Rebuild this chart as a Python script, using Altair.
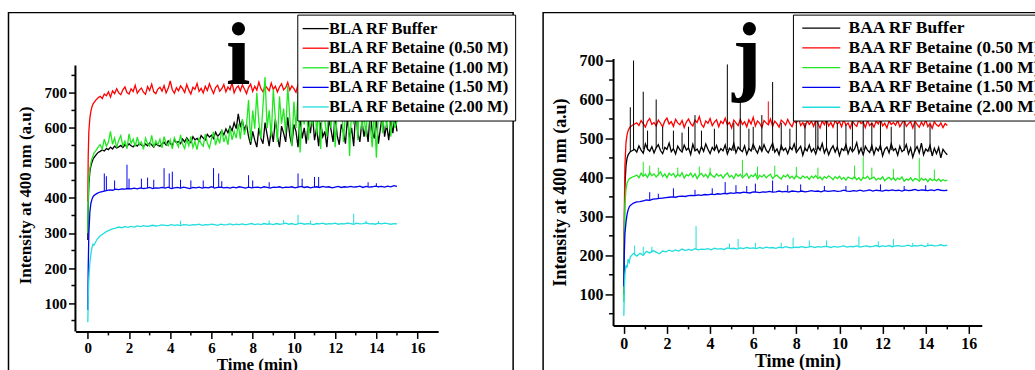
import altair as alt
import pandas as pd

FONT = "Liberation Serif"
COLORS = ["#000000", "#ff0000", "#22e622", "#0000ee", "#22dddd"]

# coarse time grid (smooth traces)
TIME = [0, 0.02, 0.05, 0.1, 0.15, 0.2, 0.25, 0.3, 0.45, 0.6,
        0.75, 0.9, 1.05, 1.2, 1.35, 1.5, 1.65, 1.8, 1.95, 2.1,
        2.25, 2.4, 2.55, 2.7, 2.85, 3.0, 3.15, 3.3, 3.45, 3.6,
        3.75, 3.9, 4.05, 4.2, 4.35, 4.5, 4.65, 4.8, 4.95, 5.1,
        5.25, 5.4, 5.55, 5.7, 5.85, 6.0, 6.15, 6.3, 6.45, 6.6,
        6.75, 6.9, 7.05, 7.2, 7.35, 7.5, 7.65, 7.8, 7.95, 8.1,
        8.25, 8.4, 8.55, 8.7, 8.85, 9.0, 9.15, 9.3, 9.45, 9.6,
        9.75, 9.9, 10.05, 10.2, 10.35, 10.5, 10.65, 10.8, 10.95, 11.1,
        11.25, 11.4, 11.55, 11.7, 11.85, 12.0, 12.15, 12.3, 12.45, 12.6,
        12.75, 12.9, 13.05, 13.2, 13.35, 13.5, 13.65, 13.8, 13.95, 14.1,
        14.25, 14.4, 14.55, 14.7, 14.85, 15.0]

# fine time grid (noisy traces)
TIME_FINE = [0, 0.02, 0.05, 0.1, 0.15, 0.2, 0.25, 0.3, 0.4, 0.5,
             0.6, 0.7, 0.8, 0.9, 1.0, 1.1, 1.2, 1.3, 1.4, 1.5,
             1.6, 1.7, 1.8, 1.9, 2.0, 2.1, 2.2, 2.3, 2.4, 2.5,
             2.6, 2.7, 2.8, 2.9, 3.0, 3.1, 3.2, 3.3, 3.4, 3.5,
             3.6, 3.7, 3.8, 3.9, 4.0, 4.1, 4.2, 4.3, 4.4, 4.5,
             4.6, 4.7, 4.8, 4.9, 5.0, 5.1, 5.2, 5.3, 5.4, 5.5,
             5.6, 5.7, 5.8, 5.9, 6.0, 6.1, 6.2, 6.3, 6.4, 6.5,
             6.6, 6.7, 6.8, 6.9, 7.0, 7.1, 7.2, 7.3, 7.4, 7.5,
             7.6, 7.7, 7.8, 7.9, 8.0, 8.1, 8.2, 8.3, 8.4, 8.5,
             8.6, 8.7, 8.8, 8.9, 9.0, 9.1, 9.2, 9.3, 9.4, 9.5,
             9.6, 9.7, 9.8, 9.9, 10.0, 10.1, 10.2, 10.3, 10.4, 10.5,
             10.6, 10.7, 10.8, 10.9, 11.0, 11.1, 11.2, 11.3, 11.4, 11.5,
             11.6, 11.7, 11.8, 11.9, 12.0, 12.1, 12.2, 12.3, 12.4, 12.5,
             12.6, 12.7, 12.8, 12.9, 13.0, 13.1, 13.2, 13.3, 13.4, 13.5,
             13.6, 13.7, 13.8, 13.9, 14.0, 14.1, 14.2, 14.3, 14.4, 14.5,
             14.6, 14.7, 14.8, 14.9, 15.0]

BLA_NAMES = ["BLA RF Buffer", "BLA RF Betaine (0.50 M)", "BLA RF Betaine (1.00 M)",
             "BLA RF Betaine (1.50 M)", "BLA RF Betaine (2.00 M)"]
BAA_NAMES = ["BAA RF Buffer", "BAA RF Betaine (0.50 M)", "BAA RF Betaine (1.00 M)",
             "BAA RF Betaine (1.50 M)", "BAA RF Betaine (2.00 M)"]

# ---------------- panel i (BLA) ----------------
bla_buffer = [280, 380, 440, 475, 492, 502, 510, 515, 523, 530,
              533, 537, 534, 541, 538, 545, 540, 548, 543, 546,
              550, 544, 552, 547, 555, 549, 546, 553, 548, 556,
              551, 547, 554, 549, 557, 552, 545, 555, 550, 548,
              554, 559, 551, 563, 556, 549, 566, 558, 561, 555,
              568, 560, 572, 563, 558, 575, 566, 570, 562, 578,
              571, 566, 582, 574, 579, 570, 588, 576, 583, 592,
              580, 597, 586, 604, 592, 615, 598, 640, 605, 620,
              595, 610, 575, 552, 590, 565, 545, 600, 570, 555,
              615, 580, 548, 595, 560, 625, 575, 545, 605, 585,
              560, 630, 578, 550, 610, 590, 545, 635, 570, 600,
              555, 620, 585, 640, 565, 600, 548, 615, 575, 590,
              545, 625, 595, 560, 640, 578, 552, 610, 588, 555,
              630, 570, 600, 548, 650, 585, 560, 620, 575, 605,
              560, 645, 590, 570, 625, 555, 600, 640, 575, 610,
              565, 620, 585, 635, 590]
bla_050 = [390, 520, 590, 628, 648, 660, 668, 672, 680, 686,
           690, 684, 697, 692, 703, 688, 706, 698, 712, 700,
           695, 709, 717, 701, 697, 712, 704, 722, 699, 708,
           714, 702, 696, 718, 707, 725, 703, 698, 711, 716,
           705, 721, 700, 713, 734, 709, 699, 715, 706, 720,
           712, 701, 724, 708, 697, 716, 710, 727, 704, 713,
           700, 719, 707, 726, 711, 698, 715, 722, 705, 712,
           724, 703, 717, 709, 729, 700, 714, 720, 706, 723,
           711, 698, 716, 725, 704, 719, 708, 731, 712, 703,
           721, 714, 706, 728, 710, 719, 703, 717, 726, 709,
           715, 730, 708, 720, 712, 702, 724, 716, 710, 727,
           713, 722, 706, 729, 717, 711, 725, 708, 720, 714,
           728, 710, 719, 724, 707, 721, 732, 713, 718, 709,
           723, 716, 711, 727, 720, 714, 729, 709, 722, 717,
           712, 726, 719, 731, 714, 721, 710, 725, 718, 728,
           713, 722, 716, 727, 719]
bla_100 = [300, 400, 455, 485, 500, 512, 520, 528, 536, 545,
           552, 540, 568, 548, 560, 590, 553, 571, 544, 565,
           578, 549, 562, 541, 583, 556, 568, 547, 574, 552,
           560, 539, 571, 555, 548, 579, 545, 563, 552, 568,
           543, 575, 556, 549, 566, 540, 572, 558, 546, 580,
           553, 541, 567, 549, 576, 544, 561, 538, 570, 555,
           548, 582, 557, 543, 568, 589, 551, 573, 556, 596,
           560, 578, 552, 601, 566, 590, 571, 612, 568, 625,
           580, 608, 680, 560, 650, 598, 700, 615, 570, 665,
           745, 600, 650, 575, 710, 625, 560, 690, 612, 655,
           585, 720, 630, 548, 675, 600, 700, 530, 645, 610,
           690, 565, 640, 605, 720, 580, 655, 540, 700, 620,
           575, 660, 600, 710, 545, 650, 625, 690, 560, 640,
           700, 520, 655, 610, 680, 565, 720, 595, 640, 575,
           690, 610, 545, 665, 515, 640, 700, 585, 655, 600,
           670, 575, 640, 600, 620]
bla_150 = [80, 200, 300, 360, 385, 396, 403, 407, 413, 417,
           419, 421, 423, 422, 425, 424, 426, 425, 427, 426,
           428, 426, 429, 427, 428, 430, 427, 429, 428, 430,
           428, 431, 427, 429, 430, 428, 431, 429, 427, 430,
           429, 431, 428, 430, 429, 432, 428, 430, 431, 429,
           430, 428, 431, 429, 432, 430, 428, 431, 429, 430,
           431, 429, 432, 430, 428, 431, 430, 432, 429, 431,
           430, 432, 429, 431, 433, 430, 432, 429, 431, 432,
           430, 433, 431, 432, 429, 431, 433, 430, 432, 431,
           433, 431, 432, 434, 430, 433, 431, 432, 434, 432,
           433, 431, 434, 432, 435, 433]
bla_200 = [45, 110, 170, 215, 240, 258, 268, 265, 282, 292,
           298, 304, 308, 312, 314, 317, 315, 318, 316, 319,
           317, 320, 318, 321, 319, 320, 322, 320, 321, 323,
           322, 321, 324, 322, 323, 321, 324, 323, 322, 324,
           323, 325, 322, 324, 323, 325, 324, 322, 325, 323,
           324, 326, 323, 325, 324, 326, 323, 325, 327, 324,
           326, 324, 327, 325, 326, 324, 327, 325, 326, 328,
           325, 327, 324, 326, 328, 325, 327, 326, 324, 327,
           326, 328, 325, 327, 326, 328, 325, 327, 326, 328,
           327, 325, 328, 326, 327, 329, 326, 327, 325, 328,
           326, 328, 327, 325, 327, 326]

# spikes: (time, low, high)
bla_150_spikes = [(0.8, 420, 470), (0.9, 421, 462), (1.3, 423, 450), (1.9, 426, 495),
                  (2.0, 426, 455), (2.6, 428, 455), (2.9, 428, 458), (3.2, 428, 452),
                  (3.7, 429, 485), (3.95, 430, 470), (4.1, 428, 475), (4.5, 428, 452),
                  (5.0, 429, 450), (5.6, 429, 450), (6.1, 431, 485), (6.35, 430, 470),
                  (6.5, 430, 448), (7.8, 430, 465), (8.0, 430, 450), (8.8, 430, 445),
                  (10.2, 431, 470), (10.4, 431, 455), (11.0, 431, 460), (11.2, 431, 460),
                  (13.6, 432, 445), (14.0, 432, 442)]
bla_200_spikes = [(4.5, 323, 335), (8.8, 325, 336), (9.5, 325, 337), (10.2, 326, 352),
                  (10.8, 326, 335), (12.9, 327, 355), (13.5, 327, 335), (14.1, 327, 334)]

# ---------------- panel j (BAA) ----------------
baa_buffer = [100, 250, 380, 430, 450, 458, 462, 466, 469, 472,
              465, 481, 470, 462, 486, 473, 467, 479, 463, 476,
              484, 469, 461, 477, 472, 488, 466, 474, 460, 480,
              471, 465, 483, 470, 476, 459, 485, 468, 473, 462,
              479, 467, 486, 472, 461, 477, 469, 482, 464, 474,
              468, 483, 460, 475, 470, 487, 463, 478, 471, 466,
              481, 459, 474, 468, 485, 472, 462, 479, 467, 484,
              470, 463, 476, 488, 465, 473, 458, 482, 469, 475,
              461, 478, 471, 486, 464, 472, 480, 457, 475, 468,
              483, 466, 474, 460, 479, 470, 487, 463, 476, 458,
              472, 481, 465, 478, 456, 474, 469, 484, 461, 477,
              466, 473, 489, 462, 475, 458, 480, 470, 464, 482,
              459, 476, 468, 483, 455, 472, 478, 463, 486, 469,
              474, 457, 480, 466, 471, 484, 460, 476, 452, 470,
              479, 463, 488, 458, 473, 467, 482, 455, 475, 461,
              477, 450, 472, 464, 458]
baa_050 = [100, 300, 430, 490, 510, 520, 526, 530, 534, 537,
           540, 533, 546, 538, 529, 544, 551, 536, 541, 532,
           547, 539, 530, 545, 552, 537, 543, 531, 549, 540,
           535, 546, 528, 542, 550, 538, 532, 547, 541, 556,
           536, 529, 545, 539, 551, 533, 542, 548, 530, 544,
           538, 552, 535, 541, 527, 547, 540, 533, 549, 536,
           543, 530, 548, 537, 554, 532, 545, 539, 528, 546,
           540, 535, 550, 531, 544, 538, 529, 547, 542, 534,
           549, 537, 530, 545, 540, 552, 533, 541, 528, 546,
           536, 544, 531, 548, 539, 527, 545, 535, 550, 532,
           541, 529, 546, 537, 543, 530, 549, 534, 540, 526,
           545, 536, 531, 548, 538, 542, 528, 546, 533, 540,
           529, 544, 537, 551, 532, 539, 527, 545, 536, 541,
           534, 546, 530, 540, 548, 531, 538, 543, 527, 544,
           536, 529, 542, 533, 547, 530, 539, 526, 543, 535,
           531, 540, 528, 538, 533]
baa_100 = [80, 250, 330, 370, 385, 392, 396, 398, 401, 403,
           406, 399, 411, 403, 408, 400, 413, 404, 409, 401,
           407, 414, 402, 409, 399, 411, 405, 410, 400, 408,
           403, 412, 398, 407, 404, 411, 401, 409, 397, 406,
           410, 402, 408, 399, 412, 404, 400, 409, 403, 407,
           398, 406, 411, 401, 405, 397, 409, 403, 408, 399,
           404, 410, 398, 406, 402, 409, 396, 405, 401, 407,
           399, 404, 408, 397, 403, 406, 400, 396, 405, 401,
           407, 398, 403, 396, 405, 400, 397, 404, 399, 402,
           395, 403, 399, 405, 397, 401, 394, 402, 398, 404,
           400, 394, 402, 397, 403, 395, 400, 393, 401, 398,
           396, 402, 394, 399, 392, 400, 397, 403, 395, 398,
           401, 393, 398, 395, 402, 391, 397, 400, 394, 399,
           392, 398, 395, 401, 390, 396, 393, 399, 391, 397,
           395, 390, 398, 393, 396, 389, 397, 392, 395, 391,
           396, 390, 394, 391, 393]
baa_150 = [120, 200, 255, 285, 305, 317, 324, 328, 334, 337,
           338, 340, 342, 341, 344, 345, 346, 347, 348, 349,
           350, 349, 351, 352, 351, 353, 354, 353, 355, 354,
           356, 355, 357, 356, 358, 357, 359, 358, 360, 359,
           361, 360, 362, 361, 360, 363, 362, 361, 363, 362,
           364, 362, 363, 365, 363, 364, 362, 365, 364, 363,
           365, 363, 364, 366, 364, 365, 363, 366, 364, 365,
           366, 364, 365, 367, 365, 364, 366, 365, 367, 365,
           366, 368, 365, 367, 366, 365, 367, 366, 368, 366,
           367, 365, 368, 366, 367, 369, 366, 368, 367, 366,
           368, 366, 369, 367, 366, 367]
baa_200 = [45, 110, 150, 175, 168, 190, 182, 196, 205, 198,
           205, 200, 210, 206, 212, 208, 204, 211, 209, 213,
           210, 214, 211, 216, 212, 215, 213, 217, 214, 216,
           215, 217, 214, 218, 216, 217, 215, 219, 217, 218,
           216, 219, 217, 220, 218, 219, 217, 220, 218, 221,
           219, 220, 218, 221, 219, 222, 220, 219, 221, 220,
           222, 220, 221, 223, 220, 222, 221, 223, 222, 220,
           223, 221, 222, 224, 221, 223, 222, 224, 221, 223,
           224, 222, 223, 225, 222, 224, 223, 225, 222, 224,
           225, 223, 224, 226, 223, 225, 224, 226, 223, 225,
           226, 224, 225, 227, 224, 226]

baa_buffer_spikes = [(0.3, 466, 580), (0.45, 470, 700), (0.9, 472, 620), (1.1, 470, 520),
                     (1.5, 475, 600), (1.8, 472, 530), (2.3, 472, 520), (2.7, 470, 515),
                     (3.0, 472, 530), (3.3, 470, 560), (3.6, 474, 520), (4.2, 472, 525),
                     (4.8, 470, 690), (5.1, 468, 540), (5.4, 470, 600), (5.8, 470, 525),
                     (6.0, 470, 530), (6.4, 468, 560), (6.9, 468, 645), (7.3, 470, 540),
                     (7.7, 472, 525), (8.0, 470, 600), (8.4, 468, 540), (8.9, 470, 560),
                     (9.0, 472, 555), (9.4, 470, 545), (9.9, 472, 540), (10.3, 468, 535),
                     (10.6, 470, 550), (11.1, 470, 545), (11.5, 468, 540), (11.9, 470, 555),
                     (12.4, 470, 530), (13.0, 468, 545), (13.5, 466, 540), (14.2, 466, 535)]
baa_050_spikes = [(6.7, 538, 595)]
baa_100_spikes = [(0.9, 405, 440), (1.2, 405, 430), (1.6, 405, 425), (2.5, 405, 425),
                  (3.5, 404, 428), (4.0, 404, 425), (5.5, 403, 445), (6.2, 402, 428),
                  (7.0, 401, 430), (8.0, 400, 427), (9.0, 400, 425), (10.7, 397, 430),
                  (11.1, 397, 452), (11.5, 396, 425), (12.5, 395, 422), (13.7, 394, 450),
                  (14.4, 393, 420)]
baa_150_spikes = [(1.2, 342, 362), (1.6, 346, 358), (2.3, 350, 372), (3.3, 353, 368),
                  (4.1, 357, 372), (4.7, 358, 388), (5.2, 360, 380), (5.7, 361, 378),
                  (6.1, 362, 384), (6.9, 362, 392), (7.6, 363, 380), (8.2, 364, 382),
                  (9.3, 365, 378), (10.3, 365, 378), (11.9, 366, 382), (13.0, 366, 378),
                  (14.0, 367, 380)]
baa_200_spikes = [(0.5, 200, 225), (0.9, 202, 222), (1.3, 206, 222), (3.35, 215, 275),
                  (4.9, 217, 230), (5.3, 218, 242), (6.1, 219, 232), (7.3, 220, 232),
                  (7.85, 220, 245), (8.6, 221, 238), (9.4, 222, 238), (10.9, 222, 248),
                  (11.8, 223, 236), (12.5, 224, 242), (13.4, 224, 232), (14.1, 224, 232)]

X_TICKS = [0, 2, 4, 6, 8, 10, 12, 14, 16]
X_MINOR = [1, 3, 5, 7, 9, 11, 13, 15]
Y_TICKS = [100, 200, 300, 400, 500, 600, 700]
Y_MINOR_BLA = [50, 150, 250, 350, 450, 550, 650, 750]
Y_MINOR_BAA = [50, 150, 250, 350, 450, 550, 650]


def long_table(names, series):
    rows = []
    for name, (times, vals) in zip(names, series):
        for t, v in zip(times, vals):
            rows.append({"t": t, "v": v, "s": name})
    return pd.DataFrame(rows)


def spike_table(names, spikes):
    rows = []
    for name, lst in zip(names, spikes):
        for t, lo, hi in lst:
            rows.append({"t": t, "v": lo, "v2": hi, "s": name})
    return pd.DataFrame(rows)


def panel(names, series, spikes, xdom, ydom, width, height, tick_fs, title_fs,
          tick_len, ytitle_pad, leg, letter, letter_x, frame_x, frame_x2,
          y_minor, manual_top):
    one = pd.DataFrame({"k": [0]})
    xs = alt.Scale(domain=xdom, nice=False, zero=False)
    ys = alt.Scale(domain=ydom, nice=False, zero=False)
    xaxis = alt.Axis(title="Time (min)", values=X_TICKS, grid=False,
                     domainColor="black", domainWidth=2, tickColor="black",
                     tickWidth=1.5, tickSize=tick_len, labelFont=FONT,
                     labelFontSize=tick_fs, labelFontWeight="bold",
                     labelColor="black", labelPadding=2, titleFont=FONT,
                     titleFontSize=title_fs, titleFontWeight="bold",
                     titleColor="black", titlePadding=1, labelFlush=False)
    yaxis = alt.Axis(title="Intensity at 400 nm (a.u)", values=Y_TICKS, grid=False,
                     domain=(manual_top is None), domainColor="black", domainWidth=2,
                     tickColor="black", tickWidth=1.5, tickSize=tick_len,
                     labelFont=FONT, labelFontSize=tick_fs, labelFontWeight="bold",
                     labelColor="black", labelPadding=2, titleFont=FONT,
                     titleFontSize=title_fs, titleFontWeight="bold",
                     titleColor="black", titlePadding=ytitle_pad, labelFlush=False)
    X = alt.X("t:Q", scale=xs, axis=xaxis)
    Y = alt.Y("v:Q", scale=ys, axis=yaxis)
    color = alt.Color("s:N", scale=alt.Scale(domain=names, range=COLORS),
                      legend=alt.Legend(title=None, orient="none",
                                        legendX=leg["x"], legendY=-44,
                                        symbolType=leg["path"], symbolSize=leg["sym"],
                                        symbolOffset=leg["symoff"],
                                        symbolStrokeWidth=1.3,
                                        labelFont=FONT, labelFontSize=leg["fs"],
                                        labelFontWeight="bold", labelColor="black",
                                        labelLimit=400, labelOffset=leg["off"],
                                        padding=leg["pad"], rowPadding=leg["row"],
                                        strokeColor="black", fillColor="white"))

    frame = alt.Chart(one).mark_rect(fill="white", fillOpacity=0, stroke="black",
                                     strokeWidth=1.5).encode(
        x=alt.value(frame_x), x2=alt.value(frame_x2),
        y=alt.value(-46), y2=alt.value(330))
    lines = alt.Chart(long_table(names, series)).mark_line(strokeWidth=1.3).encode(
        x=X, y=Y, color=color)
    sp = alt.Chart(spike_table(names, spikes)).mark_rule(strokeWidth=1).encode(
        x=X, y=Y, y2="v2:Q", color=color)
    xminor = alt.Chart(pd.DataFrame({"t": X_MINOR})).mark_rule(
        color="black", strokeWidth=1.5).encode(
        x=X, y=alt.value(height), y2=alt.value(height + 4))
    yminor = alt.Chart(pd.DataFrame({"v": y_minor})).mark_rule(
        color="black", strokeWidth=1.5).encode(
        y=Y, x=alt.value(0), x2=alt.value(-4))
    txt = alt.Chart(one).mark_text(text=letter, font=FONT, fontSize=88,
                                   fontWeight="bold", align="center",
                                   baseline="alphabetic", color="black").encode(
        x=alt.value(letter_x), y=alt.value(25))
    layers = [frame, lines, sp, xminor, yminor, txt]
    if manual_top is not None:
        dom = alt.Chart(pd.DataFrame({"v": [ydom[0]], "v2": [manual_top]})).mark_rule(
            color="black", strokeWidth=2).encode(x=alt.value(0), y=Y, y2="v2:Q")
        layers.append(dom)
    return alt.layer(*layers).properties(width=width, height=height)


left = panel(BLA_NAMES,
             [(TIME_FINE, bla_buffer), (TIME_FINE, bla_050), (TIME_FINE, bla_100),
              (TIME, bla_150), (TIME, bla_200)],
             [[], [], [], bla_150_spikes, bla_200_spikes],
             xdom=[-0.6, 17.0], ydom=[19, 798], width=363, height=273,
             tick_fs=15, title_fs=17, tick_len=7, ytitle_pad=9,
             leg={"x": 222, "path": "M-1.625,0H1.625", "sym": 256, "symoff": 4.35,
                  "fs": 16.5, "off": 4.35, "pad": 5, "row": 1.6},
             letter="i", letter_x=163, frame_x=-67, frame_x2=438,
             y_minor=Y_MINOR_BLA, manual_top=778)

right = panel(BAA_NAMES,
              [(TIME_FINE, baa_buffer), (TIME_FINE, baa_050), (TIME_FINE, baa_100),
               (TIME, baa_150), (TIME, baa_200)],
              [baa_buffer_spikes, baa_050_spikes, baa_100_spikes, baa_150_spikes,
               baa_200_spikes],
              xdom=[-0.5, 16.6], ydom=[20, 705], width=369, height=267,
              tick_fs=16, title_fs=18, tick_len=8, ytitle_pad=10,
              leg={"x": 180, "path": "M-2.235,0H2.235", "sym": 289, "symoff": 14.85,
                   "fs": 17.5, "off": 17.85, "pad": 4, "row": 1.8},
              letter="j", letter_x=134, frame_x=-70, frame_x2=460,
              y_minor=Y_MINOR_BAA, manual_top=None)

chart = alt.hconcat(left, right, spacing=175, bounds="flush").resolve_scale(
    color="independent"
).properties(
    padding={"left": 7.5, "top": 11.5, "right": -38.75, "bottom": -19}
).configure(background="white").configure_view(stroke=None)

chart.save("out.html", embed_options={"renderer": "svg", "actions": False})
